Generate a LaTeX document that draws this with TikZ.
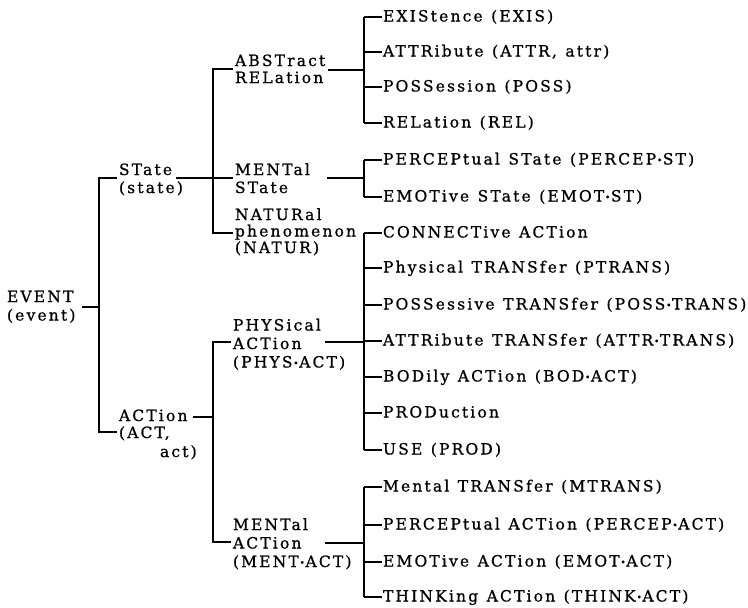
\documentclass[tikz,border=0pt]{standalone}
\usepackage{fontspec}
\setmainfont{DejaVu Serif}[LetterSpace=14,FakeBold=0.8,WordSpace=1.2]
\newcommand{\firstln}{\rule{0pt}{12pt}}
\newcommand{\mdot}{\kern0.8pt\raisebox{1.2pt}{\fontsize{9pt}{9pt}\selectfont •}\kern0.6pt}
\begin{document}
\begin{tikzpicture}[x=1pt,y=-1pt,
  lbl/.style={inner sep=0pt, outer sep=0pt, font=\fontsize{15.5pt}{18pt}\selectfont},
  leaf/.style={lbl, anchor=base west},
  grp/.style={lbl, anchor=north west, align=left},
  conn/.style={line width=1.1pt, line cap=butt}]
\fill[white] (0,0) rectangle (748,608);
\useasboundingbox (0,0) rectangle (748,608);

% inner labels
\node[grp] (event) at (7,290) {\firstln EVENT\\[0.5pt](event)};
\node[grp] (state) at (119,163) {\firstln STate\\(state)};
\node[grp] (action) at (119,409) {\firstln ACTion\\[-1pt](ACT,\\[1pt]\hspace*{41pt}act)};
\node[grp] (abs) at (235,54) {\firstln ABSTract\\[-1pt]RELation};
\node[grp] (mst) at (235,163) {\firstln MENTal\\STate};
\node[grp] (natur) at (235,208) {\firstln NATURal\\[-1.5pt]phenomenon\\[-1.5pt](NATUR)};
\node[grp] (phys) at (233,318.5) {\firstln PHYSical\\[0.5pt]ACTion\\[0.5pt](PHYS\mdot ACT)};
\node[grp] (mact) at (233,518) {\firstln MENTal\\[0.5pt]ACTion\\[0.5pt](MENT\mdot ACT)};

% level 1 bus
\coordinate (b1t) at (99,178);
\coordinate (b1m) at (99,307);
\coordinate (b1b) at (99,432);
\coordinate (evout) at (82,307);
\draw[conn, shorten <=2pt, shorten >=2pt] (b1t -| state.west) -- (b1t) -- (b1b) -- (b1b -| action.west);
\draw[conn] (evout) -- (b1m);

% level 2 bus (state)
\coordinate (b2t) at (213,69);
\coordinate (b2m) at (213,178);
\coordinate (b2b) at (213,233);
\coordinate (stout) at (176,178);
\draw[conn, shorten <=2pt, shorten >=2pt] (b2t -| abs.west) -- (b2t) -- (b2b) -- (b2b -| natur.west);
\draw[conn, shorten >=2pt] (stout) -- (b2m) -- (b2m -| mst.west);

% level 2 bus (action)
\coordinate (b3t) at (213,342);
\coordinate (b3m) at (213,417);
\coordinate (b3b) at (213,542);
\coordinate (acout) at (193,417);
\draw[conn, shorten <=2pt, shorten >=2pt] (b3t -| phys.west) -- (b3t) -- (b3b) -- (b3b -| mact.west);
\draw[conn] (acout) -- (b3m);

% leaf buses
\coordinate (g1t) at (364,17);  \coordinate (g1b) at (364,123);
\coordinate (g2t) at (364,160); \coordinate (g2b) at (364,197);
\coordinate (g3t) at (364,233); \coordinate (g3b) at (364,450);
\coordinate (g4t) at (364,487); \coordinate (g4b) at (364,597);
\draw[conn] (g1t) -- (g1b);
\draw[conn] (g2t) -- (g2b);
\draw[conn] (g3t) -- (g3b);
\draw[conn] (g4t) -- (g4b);
\coordinate (absout) at (328,70);   \coordinate (g1m) at (364,70);
\coordinate (mstout) at (327,178);  \coordinate (g2m) at (364,178);
\coordinate (physout) at (325,342); \coordinate (g3m) at (364,342);
\coordinate (mactout) at (325,543); \coordinate (g4m) at (364,543);
\draw[conn] (absout) -- (g1m);
\draw[conn] (mstout) -- (g2m);
\draw[conn] (physout) -- (g3m);
\draw[conn] (mactout) -- (g4m);

% leaves
\foreach \i/\yy/\tx in {
  0/17/{EXIStence (EXIS)},
  1/52/{ATTRibute (ATTR, attr)},
  2/87/{POSSession (POSS)},
  3/123/{RELation (REL)},
  4/160/{PERCEPtual STate (PERCEP\mdot ST)},
  5/197/{EMOTive STate (EMOT\mdot ST)},
  6/233/{CONNECTive ACTion},
  7/268/{Physical TRANSfer (PTRANS)},
  8/305/{POSSessive TRANSfer (POSS\mdot TRANS)},
  9/341/{ATTRibute TRANSfer (ATTR\mdot TRANS)},
  10/377/{BODily ACTion (BOD\mdot ACT)},
  11/413/{PRODuction},
  12/450/{USE (PROD)},
  13/487/{Mental TRANSfer (MTRANS)},
  14/525/{PERCEPtual ACTion (PERCEP\mdot ACT)},
  15/562/{EMOTive ACTion (EMOT\mdot ACT)},
  16/597/{THINKing ACTion (THINK\mdot ACT)}} {
  \coordinate (t\i) at (364,\yy);
  \node[leaf] (l\i) at (383,\yy+4.5) {\tx};
  \draw[conn, shorten >=1pt] (t\i) -- (t\i -| l\i.west);
}
\end{tikzpicture}
\end{document}
